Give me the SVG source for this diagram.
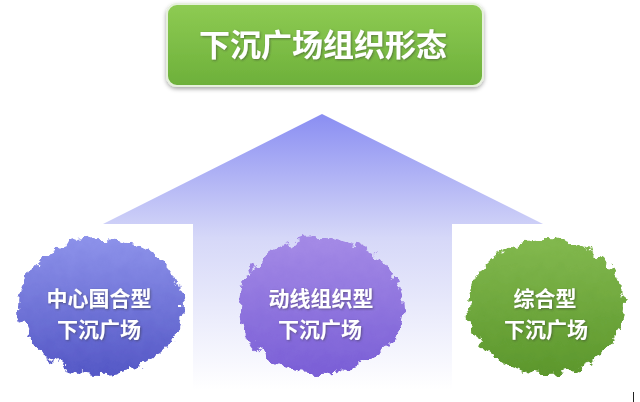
<svg xmlns="http://www.w3.org/2000/svg" width="640" height="402" viewBox="0 0 640 402">
<defs>
<linearGradient id="gTitle" x1="0" y1="0" x2="0" y2="1">
<stop offset="0" stop-color="#8ecb53"/><stop offset="1" stop-color="#6db03a"/>
</linearGradient>
<linearGradient id="gArrow" x1="0" y1="114" x2="0" y2="390" gradientUnits="userSpaceOnUse">
<stop offset="0" stop-color="#8a8ef2"/><stop offset="0.45" stop-color="#d6d8f8"/><stop offset="1" stop-color="#ffffff"/>
</linearGradient>
<linearGradient id="gBlue" x1="0" y1="0" x2="0" y2="1">
<stop offset="0" stop-color="#8d92ea"/><stop offset="1" stop-color="#5558c6"/>
</linearGradient>
<linearGradient id="gPurple" x1="0" y1="0" x2="0" y2="1">
<stop offset="0" stop-color="#a48ae6"/><stop offset="1" stop-color="#7a5fd6"/>
</linearGradient>
<linearGradient id="gGreen" x1="0" y1="0" x2="0" y2="1">
<stop offset="0" stop-color="#82b84e"/><stop offset="1" stop-color="#5c972c"/>
</linearGradient>
<filter id="rough" x="-10%" y="-10%" width="120%" height="120%">
<feTurbulence type="fractalNoise" baseFrequency="0.09" numOctaves="3" seed="4" result="n"/>
<feDisplacementMap in="SourceGraphic" in2="n" scale="16" xChannelSelector="R" yChannelSelector="G"/>
</filter>
<filter id="shadow" x="-10%" y="-20%" width="120%" height="150%">
<feDropShadow dx="0" dy="2" stdDeviation="2" flood-color="#000" flood-opacity="0.35"/>
</filter>
<filter id="tshadow" x="-10%" y="-20%" width="120%" height="150%">
<feDropShadow dx="1" dy="1" stdDeviation="0.8" flood-color="#333" flood-opacity="0.5"/>
</filter>
</defs>
<style>
text{font-family:"Noto Sans CJK SC","Noto Sans CJK JP",sans-serif;font-weight:bold;fill:#ffffff;text-anchor:middle}
.t{font-size:31px}
.b{font-size:21px}
</style>
<rect width="640" height="402" fill="#ffffff"/>
<g id="connectors">
<path d="M322,114 L543,224 L452,224 L452,395 L193,395 L193,224 L103,224 Z" fill="url(#gArrow)"/>
</g>
<g id="title">
<rect x="167" y="4" width="316" height="82" rx="10" fill="url(#gTitle)" stroke="#e6f0dc" stroke-width="2" filter="url(#shadow)"/>
<text class="t" x="323" y="56" filter="url(#tshadow)">下沉广场组织形态</text>
</g>
<g id="node-center">
<ellipse cx="101" cy="306" rx="82" ry="68" fill="url(#gBlue)" filter="url(#rough)"/>
<text class="b" x="99" y="306" filter="url(#tshadow)">中心国合型</text>
<text class="b" x="99" y="337" filter="url(#tshadow)">下沉广场</text>
</g>
<g id="node-flow">
<ellipse cx="321" cy="306" rx="82" ry="68" fill="url(#gPurple)" filter="url(#rough)"/>
<text class="b" x="321" y="306" filter="url(#tshadow)">动线组织型</text>
<text class="b" x="320" y="337" filter="url(#tshadow)">下沉广场</text>
</g>
<g id="node-mixed">
<ellipse cx="546" cy="307" rx="78" ry="67" fill="url(#gGreen)" filter="url(#rough)"/>
<text class="b" x="545" y="306" filter="url(#tshadow)">综合型</text>
<text class="b" x="546" y="337" filter="url(#tshadow)">下沉广场</text>
</g>
<line x1="633.5" y1="392" x2="633.5" y2="402" stroke="#222" stroke-width="1"/>
</svg>
